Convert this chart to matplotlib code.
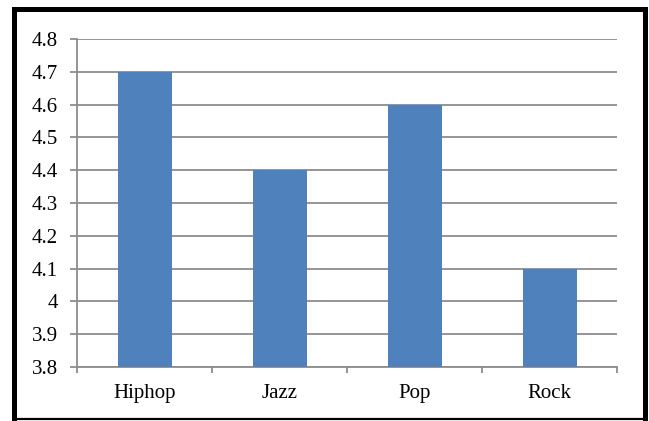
import matplotlib
matplotlib.use("Agg")
import matplotlib.pyplot as plt
from matplotlib.lines import Line2D
import numpy as np

genres = ["Hiphop", "Jazz", "Pop", "Rock"]
scores = [4.7, 4.4, 4.6, 4.1]
y_ticks = [3.8, 3.9, 4.0, 4.1, 4.2, 4.3, 4.4, 4.5, 4.6, 4.7, 4.8]
y_tick_labels = ["3.8", "3.9", "4", "4.1", "4.2", "4.3", "4.4", "4.5", "4.6", "4.7", "4.8"]

W, H, DPI = 649, 421, 100
fig = plt.figure(figsize=(W / DPI, H / DPI), dpi=DPI)
fig.patch.set_facecolor("white")

ax = fig.add_axes([77 / W, 1 - 367 / H, (617 - 77) / W, (367 - 39) / H])

grid_color = "#8c8c8c"
x = np.arange(len(genres))
ax.bar(x, scores, width=0.4, color="#4f81bd", zorder=3, bottom=0)
ax.set_xlim(-0.5, len(genres) - 0.5)
ax.set_ylim(y_ticks[0], y_ticks[-1])

ax.set_yticks(y_ticks)
ax.set_yticklabels(y_tick_labels)
ax.yaxis.grid(True, color=grid_color, linewidth=1.3, zorder=0)
ax.set_axisbelow(True)

ax.set_xticks(x)
ax.set_xticklabels(genres)
ax.set_xticks(np.arange(-0.5, len(genres), 1.0), minor=True)
ax.tick_params(axis="x", which="major", length=0, pad=12)
ax.tick_params(axis="x", which="minor", length=4, width=1.3, color=grid_color, direction="out")
ax.tick_params(axis="y", length=5, width=1.3, color=grid_color, direction="out", pad=8.5)

for lab in ax.get_xticklabels() + ax.get_yticklabels():
    lab.set_fontfamily("Liberation Serif")
    lab.set_fontsize(15)
    lab.set_color("black")

for side in ("top", "right"):
    ax.spines[side].set_visible(False)
for side in ("left", "bottom"):
    ax.spines[side].set_color(grid_color)
    ax.spines[side].set_linewidth(1.3)

# outer chart frame
def px(xp, yp):
    return xp / W, 1 - yp / H

frame = [
    ((14, 9), (645, 9), 3.6),
    ((14, 9), (14, 419), 3.6),
    ((645, 9), (645, 419), 3.6),
    ((14, 419), (645, 419), 1.6),
]
for (a, b, lw) in frame:
    (x0, y0), (x1, y1) = px(*a), px(*b)
    fig.add_artist(Line2D([x0, x1], [y0, y1], transform=fig.transFigure,
                          color="black", linewidth=lw, solid_capstyle="projecting"))

fig.savefig("out.png", dpi=DPI)
